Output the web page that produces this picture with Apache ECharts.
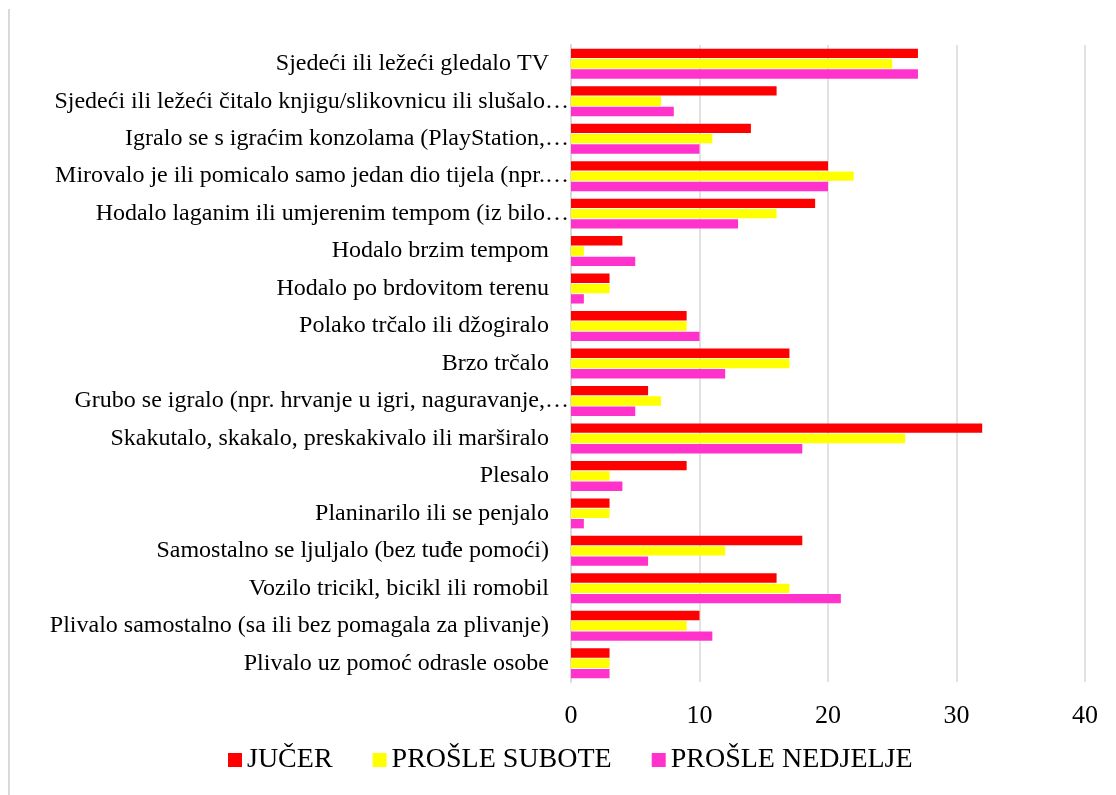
<!DOCTYPE html>
<html>
<head>
<meta charset="utf-8">
<script src="https://cdn.jsdelivr.net/npm/echarts@6/dist/echarts.min.js"></script>
<style>
html,body{margin:0;padding:0;background:#fff;}
#chart{width:1116px;height:795px;}
</style>
</head>
<body>
<div id="chart"></div>
<script>
var categories = [
  "Sjedeći ili ležeći gledalo TV",
  "Sjedeći ili ležeći čitalo knjigu/slikovnicu ili slušalo…",
  "Igralo se s igraćim konzolama (PlayStation,…",
  "Mirovalo je ili pomicalo samo jedan dio tijela (npr.…",
  "Hodalo laganim ili umjerenim tempom (iz bilo…",
  "Hodalo brzim tempom",
  "Hodalo po brdovitom terenu",
  "Polako trčalo ili džogiralo",
  "Brzo trčalo",
  "Grubo se igralo (npr. hrvanje u igri, naguravanje,…",
  "Skakutalo, skakalo, preskakivalo ili marširalo",
  "Plesalo",
  "Planinarilo ili se penjalo",
  "Samostalno se ljuljalo (bez tuđe pomoći)",
  "Vozilo tricikl, bicikl ili romobil",
  "Plivalo samostalno (sa ili bez pomagala za plivanje)",
  "Plivalo uz pomoć odrasle osobe"
];
var seriesNames = ["JUČER", "PROŠLE SUBOTE", "PROŠLE NEDJELJE"];
var jucer    = [27, 16, 14, 20, 19, 4, 3, 9, 17, 6, 32, 9, 3, 18, 16, 10, 3];
var subote   = [25, 7, 11, 22, 16, 1, 3, 9, 17, 7, 26, 3, 3, 12, 17, 9, 3];
var nedjelje = [27, 8, 10, 20, 13, 5, 1, 10, 12, 5, 18, 4, 1, 6, 21, 11, 3];
var xTicks = { min: 0, max: 40, interval: 10 };

var colors = ["#ff0000", "#ffff00", "#ff33cc"];
var font = "'Liberation Serif', 'Times New Roman', serif";
var chart = echarts.init(document.getElementById('chart'), null, { renderer: 'canvas' });
var dataSets = [jucer, subote, nedjelje];
var option = {
  animation: false,
  backgroundColor: '#ffffff',
  textStyle: { fontFamily: font },
  grid: { left: 571, right: 31, top: 45, bottom: 113, containLabel: false },
  legend: {
    data: seriesNames,
    bottom: 16,
    left: 223,
    itemWidth: 14,
    itemHeight: 14,
    itemGap: 40,
    icon: 'rect',
    textStyle: { fontFamily: font, fontSize: 28, color: '#000' }
  },
  xAxis: {
    type: 'value',
    min: xTicks.min,
    max: xTicks.max,
    interval: xTicks.interval,
    axisLine: { show: false },
    axisTick: { show: false },
    axisLabel: { fontFamily: font, fontSize: 26, color: '#000', margin: 21 },
    splitLine: { show: true, lineStyle: { color: '#d9d9d9', width: 1.5 } }
  },
  yAxis: {
    type: 'category',
    data: categories,
    inverse: true,
    axisLine: { show: true, lineStyle: { color: '#d9d9d9', width: 2 } },
    axisTick: { show: false },
    axisLabel: {
      margin: 2,
      interval: 0,
      formatter: function (v) {
        return v.charAt(v.length - 1) === '…' ? '{t|' + v + '}' : '{n|' + v + '}';
      },
      rich: {
        t: { fontFamily: font, fontSize: 24, color: '#000' },
        n: { fontFamily: font, fontSize: 24, color: '#000', padding: [0, 20, 0, 0] }
      }
    }
  },
  graphic: [{
    type: 'line',
    shape: { x1: 9, y1: 9, x2: 9, y2: 795 },
    style: { stroke: '#d9d9d9', lineWidth: 2 },
    silent: true
  }],
  series: seriesNames.map(function (name, i) {
    return {
      name: name,
      type: 'bar',
      data: dataSets[i],
      barCategoryGap: '20%',
      barGap: '10%',
      itemStyle: { color: colors[i] }
    };
  })
};
chart.setOption(option);
</script>
</body>
</html>
